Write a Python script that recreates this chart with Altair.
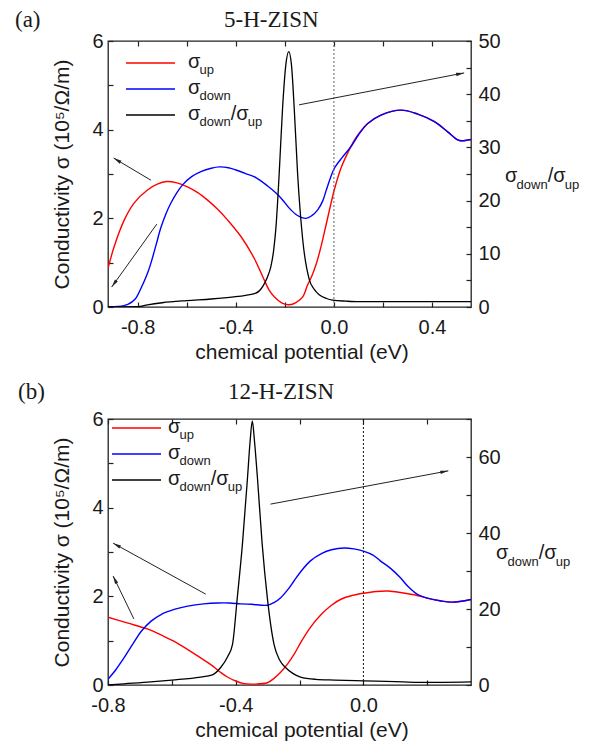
import math
import altair as alt
import pandas as pd

# ---------------- data ----------------
# panel (a) 5-H-ZISN
A_UP_X = [-0.921, -0.896, -0.855, -0.814, -0.76, -0.72, -0.682, -0.64, -0.597, -0.555, -0.515,
          -0.475, -0.433, -0.379, -0.325, -0.284, -0.264, -0.243, -0.209, -0.182, -0.155, -0.127,
          -0.107, -0.09, -0.072, -0.053, -0.032, 0.002, 0.028, 0.056, 0.09, 0.138, 0.192, 0.274,
          0.342, 0.41, 0.464, 0.505, 0.519, 0.559]
A_UP_Y = [0.87, 1.36, 1.96, 2.35, 2.64, 2.77, 2.83, 2.80, 2.71, 2.58, 2.41,
          2.21, 1.96, 1.59, 1.10, 0.61, 0.38, 0.23, 0.08, 0.05, 0.10, 0.23,
          0.50, 0.70, 0.97, 1.35, 1.85, 2.65, 3.12, 3.47, 3.82, 4.14, 4.33, 4.44,
          4.35, 4.18, 3.95, 3.77, 3.75, 3.78]
A_DN_X = [-0.921, -0.88, -0.84, -0.81, -0.785, -0.76, -0.746, -0.725, -0.706, -0.685, -0.665,
          -0.64, -0.616, -0.58, -0.54, -0.50, -0.467, -0.43, -0.40, -0.36, -0.318, -0.27,
          -0.236, -0.21, -0.182, -0.15, -0.114, -0.09, -0.066, -0.045, -0.032, -0.015, 0.002,
          0.035, 0.07, 0.1, 0.138, 0.192, 0.274, 0.342, 0.41, 0.464, 0.505, 0.519, 0.559]
A_DN_Y = [0.0, 0.01, 0.06, 0.18, 0.44, 0.76, 0.99, 1.40, 1.78, 2.10, 2.34,
          2.58, 2.76, 2.94, 3.06, 3.13, 3.16, 3.14, 3.09, 3.01, 2.92, 2.73,
          2.57, 2.42, 2.23, 2.07, 2.00, 2.06, 2.19, 2.40, 2.62, 2.90, 3.13,
          3.38, 3.62, 3.88, 4.14, 4.33, 4.44, 4.35, 4.18, 3.95, 3.77, 3.75, 3.78]
A_R_X = [-0.921, -0.8, -0.76, -0.70, -0.6, -0.5, -0.408, -0.36, -0.318, -0.291, -0.272, -0.257,
         -0.246, -0.236, -0.223, -0.209, -0.196, -0.184, -0.173, -0.162, -0.148, -0.127, -0.1,
         -0.08, -0.06, -0.03, -0.005, 0.05, 0.1, 0.2, 0.559]
A_R_Y = [0.0, 0.05, 0.4, 0.8, 1.2, 1.5, 1.9, 2.2, 2.6, 3.8, 5.5, 7.6,
         10.5, 15.1, 25.1, 37.6, 45.5, 48.0, 45.5, 37.6, 25.1, 12.6, 5.1,
         3.3, 2.3, 1.6, 1.3, 1.1, 1.0, 1.0, 1.0]

# panel (b) 12-H-ZISN
B_UP_X = [-0.8, -0.74, -0.675, -0.634, -0.594, -0.55, -0.51, -0.478, -0.45, -0.426, -0.40,
          -0.374, -0.343, -0.301, -0.28, -0.26, -0.238, -0.215, -0.197, -0.166, -0.131, -0.1,
          -0.069, -0.035, 0.0, 0.04, 0.078, 0.12, 0.168, 0.2, 0.24, 0.278, 0.337]
B_UP_Y = [1.53, 1.40, 1.26, 1.13, 0.99, 0.80, 0.61, 0.46, 0.30, 0.18, 0.09,
          0.03, 0.02, 0.05, 0.15, 0.28, 0.47, 0.72, 0.95, 1.30, 1.60, 1.80,
          1.94, 2.02, 2.07, 2.11, 2.12, 2.08, 2.02, 1.96, 1.90, 1.87, 1.93]
B_DN_X = [-0.8, -0.775, -0.75, -0.72, -0.697, -0.665, -0.634, -0.59, -0.55, -0.5, -0.456,
          -0.42, -0.384, -0.35, -0.301, -0.28, -0.259, -0.238, -0.218, -0.197, -0.166, -0.13,
          -0.1, -0.06, -0.03, 0.0, 0.03, 0.053, 0.085, 0.116, 0.14, 0.168, 0.2, 0.24, 0.278, 0.337]
B_DN_Y = [0.13, 0.35, 0.61, 0.95, 1.20, 1.44, 1.59, 1.71, 1.78, 1.83, 1.85,
          1.85, 1.83, 1.82, 1.80, 1.86, 1.97, 2.14, 2.34, 2.55, 2.80, 2.97,
          3.05, 3.09, 3.07, 3.02, 2.93, 2.80, 2.63, 2.42, 2.22, 2.05, 1.96, 1.90, 1.87, 1.93]
B_R_X = [-0.8, -0.75, -0.666, -0.6, -0.51, -0.475, -0.447, -0.425, -0.41, -0.395, -0.379,
         -0.363, -0.355, -0.348, -0.341, -0.332, -0.317, -0.301, -0.28, -0.262, -0.244, -0.22,
         -0.197, -0.15, -0.09, 0.0, 0.1, 0.17, 0.25, 0.337]
B_R_Y = [0.0, 0.3, 0.8, 1.3, 2.1, 2.6, 4.6, 7.5, 10.7, 23.0, 37.0,
         54.6, 64.0, 69.5, 64.0, 54.6, 37.0, 23.0, 10.7, 6.5, 4.6, 3.0,
         2.1, 1.5, 1.3, 1.1, 0.9, 0.7, 0.7, 0.8]

# arrows (start x, start y, tip x, tip y) in eV / conductivity units
A_ARROWS = [(-0.746, 2.86, -0.898, 3.36), (-0.722, 1.87, -0.906, 0.45), (-0.142, 4.56, 0.531, 5.28)]
B_ARROWS = [(-0.494, 2.05, -0.784, 3.20), (-0.719, 1.49, -0.784, 2.46), (-0.291, 4.08, 0.266, 4.83)]

A_XDOM = [-0.921, 0.559]
B_XDOM = [-0.8, 0.337]
X_LABELS = [-0.8, -0.4, 0.0, 0.4]
X_TICKS = [-0.8, -0.6, -0.4, -0.2, 0.0, 0.2, 0.4]
COND_DOM = [0, 6]
COND_LABELS = [0, 2, 4, 6]
COND_TICKS = [0, 1, 2, 3, 4, 5, 6]
A_RDOM = [0, 50]
A_RLABELS = [0, 10, 20, 30, 40, 50]
A_RTICKS = [0, 5, 10, 15, 20, 25, 30, 35, 40, 45, 50]
B_RDOM = [0, 70]
B_RLABELS = [0, 20, 40, 60]
B_RTICKS = [0, 10, 20, 30, 40, 50, 60, 70]

# ---------------- styling ----------------
FONT = "Liberation Sans"
SERIF = "Liberation Serif"
INK = "#1a1a1a"
W, H = 363, 266
ARROW = "M0,0L-0.5,2.3L0.5,2.3Z"
EM = {"σ": 0.58, "d": 0.556, "o": 0.556, "w": 0.722, "n": 0.556, "u": 0.556, "p": 0.556, "/": 0.278}


def sc(dom):
    return alt.Scale(domain=dom, nice=False, zero=False)


def run(x0, y0, parts):
    out, x = [], x0
    for t, fs, dy in parts:
        out.append({"tx": x, "ty": y0 + dy, "t": t, "fs": fs})
        x += sum(EM[c] for c in t) * fs
    return out


def tick_axis(orient, values):
    return alt.Axis(orient=orient, values=values, offset=-5, tickSize=5, ticks=True, labels=False,
                    domain=False, grid=False, title=None, tickColor="#222", tickWidth=1.2)


def panel(up_x, up_y, dn_x, dn_y, r_x, r_y, arrows, xdom, rdom, rlabels, rticks,
          tag, name, title_dx, title_dy, leg_x0, leg_y0, leg_text_x, rt_x, rt_y, zero_color):
    x_lab_axis = alt.Axis(orient="bottom", values=X_LABELS,
                          labelExpr="replace(format(datum.value, '.1f'), '\u2212', '-')",
                          ticks=False, domain=False, grid=False, labelFlush=False,
                          labelFont=FONT, labelFontSize=20, labelColor=INK, labelPadding=10,
                          title="chemical potential (eV)", titleFont=FONT, titleFontSize=21,
                          titleFontWeight="normal", titleColor=INK, titlePadding=4,
                          titleX=W / 2 + 12)
    y_lab_axis = alt.Axis(orient="left", values=COND_LABELS, ticks=False, domain=False, grid=False,
                          labelFlush=False, labelFont=FONT, labelFontSize=20, labelColor=INK,
                          labelPadding=5, title="Conductivity σ (10⁵/Ω/m)", titleFont=FONT,
                          titleFontSize=21, titleFontWeight="normal", titleColor=INK, titlePadding=19)
    r_lab_axis = alt.Axis(orient="right", values=rlabels, ticks=False, domain=False, grid=False,
                          labelFlush=False, labelFont=FONT, labelFontSize=20, labelColor=INK,
                          labelPadding=7, title=None)

    df_up = pd.DataFrame({"x": up_x, "y": up_y})
    df_dn = pd.DataFrame({"x": dn_x, "y": dn_y})
    df_r = pd.DataFrame({"x": r_x, "y": r_y})

    red = alt.Chart(df_up).mark_line(color="#ff0000", strokeWidth=1.4, interpolate="catmull-rom", clip=True).encode(
        x=alt.X("x:Q", scale=sc(xdom), axis=x_lab_axis),
        y=alt.Y("y:Q", scale=sc(COND_DOM), axis=y_lab_axis))
    blue = alt.Chart(df_dn).mark_line(color="#0000ff", strokeWidth=1.4, interpolate="catmull-rom", clip=True).encode(
        x=alt.X("x:Q", scale=sc(xdom), axis=None),
        y=alt.Y("y:Q", scale=sc(COND_DOM), axis=None))
    black = alt.Chart(df_r).mark_line(color="#000000", strokeWidth=1.3, interpolate="monotone", clip=True).encode(
        x=alt.X("x:Q", scale=sc(xdom), axis=None),
        y=alt.Y("y:Q", scale=sc(rdom), axis=r_lab_axis))
    ticks1 = alt.Chart(df_r).mark_point(opacity=0).encode(
        x=alt.X("x:Q", scale=sc(xdom), axis=tick_axis("bottom", X_TICKS)),
        y=alt.Y("y:Q", scale=sc(rdom), axis=tick_axis("right", rticks)))
    ticks2 = alt.Chart(df_up).mark_point(opacity=0).encode(
        x=alt.X("x:Q", scale=sc(xdom), axis=tick_axis("top", X_TICKS)),
        y=alt.Y("y:Q", scale=sc(COND_DOM), axis=tick_axis("left", COND_TICKS)))

    zero = alt.Chart(pd.DataFrame({"x": [0.0]})).mark_rule(
        color=zero_color, strokeWidth=1, strokeDash=[2, 2]).encode(
        x=alt.X("x:Q", scale=sc(xdom), axis=None))

    xspan = xdom[1] - xdom[0]
    rows = []
    for x1, y1, x2, y2 in arrows:
        dxp = (x2 - x1) * W / xspan
        dyp = -(y2 - y1) * H / (COND_DOM[1] - COND_DOM[0])
        ang = math.degrees(math.atan2(dxp, -dyp)) % 360
        rows.append({"x1": x1, "y1": y1, "x2": x2, "y2": y2, "ang": ang})
    df_arr = pd.DataFrame(rows)
    arr_lines = alt.Chart(df_arr).mark_rule(color="#222", strokeWidth=1).encode(
        x=alt.X("x1:Q", scale=sc(xdom), axis=None), y=alt.Y("y1:Q", scale=sc(COND_DOM), axis=None),
        x2="x2:Q", y2="y2:Q")
    arr_heads = alt.Chart(df_arr).mark_point(shape=ARROW, filled=True, size=49, color="#222",
                                             opacity=1, strokeWidth=0).encode(
        x=alt.X("x2:Q", scale=sc(xdom), axis=None), y=alt.Y("y2:Q", scale=sc(COND_DOM), axis=None),
        angle=alt.Angle("ang:Q", scale=None))

    # legend
    leg = pd.DataFrame({"lx1": [leg_x0] * 3, "lx2": [leg_x0 + 49] * 3,
                        "ly": [leg_y0, leg_y0 + 26, leg_y0 + 52],
                        "col": ["#ff0000", "#0000ff", "#000000"]})
    leg_lines = alt.Chart(leg).mark_rule(strokeWidth=1.4).encode(
        x=alt.X("lx1:Q", scale=None), x2="lx2:Q", y=alt.Y("ly:Q", scale=None),
        color=alt.Color("col:N", scale=None))
    txt = []
    txt += run(leg_text_x, leg_y0 + 5, [("σ", 20, 0), ("up", 13, 6)])
    txt += run(leg_text_x, leg_y0 + 31, [("σ", 20, 0), ("down", 13, 6)])
    txt += run(leg_text_x, leg_y0 + 57, [("σ", 20, 0), ("down", 13, 6), ("/", 20, 0), ("σ", 20, 0), ("up", 13, 6)])
    txt += run(rt_x, rt_y, [("σ", 20, 0), ("down", 13, 7), ("/", 20, 0), ("σ", 20, 0), ("up", 13, 7)])
    texts = alt.Chart(pd.DataFrame(txt)).mark_text(align="left", baseline="alphabetic", font=FONT,
                                                   color=INK).encode(
        x=alt.X("tx:Q", scale=None), y=alt.Y("ty:Q", scale=None), text="t:N",
        size=alt.Size("fs:Q", scale=None))

    ttl = pd.DataFrame({"tx": [title_dx[0], title_dx[1]], "ty": [title_dy, title_dy], "t": [tag, name]})
    titles = alt.Chart(ttl).mark_text(align="left", baseline="alphabetic", font=SERIF, fontSize=23,
                                      color=INK).encode(
        x=alt.X("tx:Q", scale=None), y=alt.Y("ty:Q", scale=None), text="t:N")

    return alt.layer(red, blue, black, ticks1, ticks2, zero, arr_lines, arr_heads,
                     leg_lines, texts, titles).resolve_scale(
        x="independent", y="independent").resolve_axis(x="independent", y="independent").properties(
        width=W, height=H)


pa = panel(A_UP_X, A_UP_Y, A_DN_X, A_DN_Y, A_R_X, A_R_Y, A_ARROWS, A_XDOM, A_RDOM, A_RLABELS, A_RTICKS,
           "(a)", "5-H-ZISN", (-93, 116), -14, 18, 22, 80, 397, 141, "#666666")
pb = panel(B_UP_X, B_UP_Y, B_DN_X, B_DN_Y, B_R_X, B_R_Y, B_ARROWS, B_XDOM, B_RDOM, B_RLABELS, B_RTICKS,
           "(b)", "12-H-ZISN", (-90, 120), -20, 4, 9, 60, 388, 140, "#111111")

chart = alt.vconcat(pa, pb, spacing=17).properties(
    padding={"left": 6, "top": 0, "right": 5, "bottom": 5}
).configure_view(stroke="#222", strokeWidth=1.3)

chart.save("out.html", embed_options={"renderer": "svg", "actions": False})
